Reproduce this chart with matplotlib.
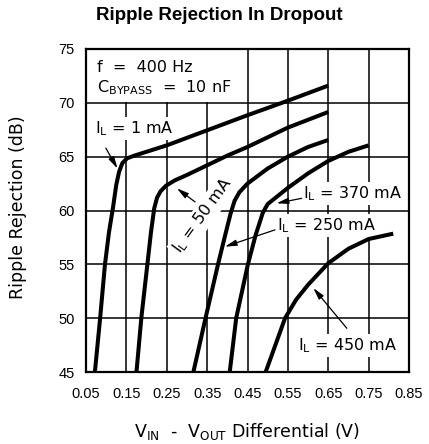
import numpy as np
from matplotlib import pyplot as plt
from matplotlib.patches import Rectangle

# curves (V, dB)
x_1ma = [0.072, 0.085, 0.097, 0.107, 0.117, 0.125, 0.132, 0.140, 0.152, 0.17, 0.25, 0.35, 0.45, 0.55, 0.65]
y_1ma = [45, 50, 55, 58, 60.3, 62.4, 63.6, 64.4, 64.85, 65.1, 66.05, 67.45, 68.85, 70.2, 71.6]

x_50ma = [0.175, 0.187, 0.202, 0.211, 0.219, 0.226, 0.235, 0.248, 0.27, 0.30, 0.35, 0.40, 0.45, 0.55, 0.65]
y_50ma = [45, 50, 55, 58, 60.2, 61.2, 61.8, 62.3, 62.8, 63.3, 64.2, 65.1, 65.9, 67.7, 69.15]

x_250ma = [0.316, 0.346, 0.377, 0.394, 0.408, 0.418, 0.43, 0.45, 0.50, 0.55, 0.60, 0.65]
y_250ma = [45, 50, 55, 57.6, 59.7, 60.9, 61.7, 62.5, 63.9, 65.0, 65.9, 66.55]

x_370ma = [0.406, 0.422, 0.451, 0.47, 0.488, 0.50, 0.52, 0.55, 0.60, 0.65, 0.70, 0.75]
y_370ma = [45, 50, 55, 57.7, 59.8, 60.6, 61.2, 62.1, 63.45, 64.6, 65.45, 66.05]

x_450ma = [0.495, 0.52, 0.543, 0.57, 0.60, 0.65, 0.70, 0.75, 0.811]
y_450ma = [45, 47.6, 50, 51.7, 53.1, 55.1, 56.45, 57.35, 57.85]

xticks = [0.05, 0.15, 0.25, 0.35, 0.45, 0.55, 0.65, 0.75, 0.85]
xticklabels = ['0.05', '0.15', '0.25', '0.35', '0.45', '0.55', '0.65', '0.75', '0.85']
yticks = [45, 50, 55, 60, 65, 70, 75]

lab_font = 'DejaVu Sans'
tick_font = 'Liberation Sans'

fig = plt.figure(figsize=(4.29, 4.44), dpi=100)
ax = fig.add_axes([86 / 429, 1 - 372 / 444, 323 / 429, 323 / 444])

curves = [(x_1ma, y_1ma), (x_50ma, y_50ma), (x_250ma, y_250ma),
          (x_370ma, y_370ma), (x_450ma, y_450ma)]
for xs, ys in curves:
    ax.plot(xs, ys, color='black', lw=2.9, solid_capstyle='butt',
            solid_joinstyle='round', zorder=4)

ax.set_xlim(0.05, 0.85)
ax.set_ylim(45, 75)
ax.set_xticks(xticks)
ax.set_xticklabels(xticklabels)
ax.set_yticks(yticks)
ax.tick_params(length=0, labelsize=10.5)
ax.tick_params(axis='x', pad=11)
ax.tick_params(axis='y', pad=8)
for lbl in ax.get_xticklabels() + ax.get_yticklabels():
    lbl.set_family(tick_font)
ax.grid(True, color='black', lw=1.1)
ax.set_axisbelow(True)
for sp in ax.spines.values():
    sp.set_linewidth(1.6)
    sp.set_zorder(6)

# blank box holding the test conditions
ax.add_patch(Rectangle((0.05, 70.12), 0.397, 4.88, facecolor='white',
                       edgecolor='none', zorder=1))

ax.text(0.077, 72.86, 'f  =  400 Hz', family=lab_font, fontsize=11.5, zorder=5)
ax.text(0.077, 70.95, r'C$_\mathregular{BYPASS}$  =  10 nF', family=lab_font,
        fontsize=11.5, zorder=5)

box = dict(facecolor='white', edgecolor='none', pad=1.5)
ax.text(0.072, 67.2, r'I$_\mathregular{L}$ = 1 mA', family=lab_font,
        fontsize=11.5, bbox=box, zorder=3)
ax.text(0.34, 59.5, r'I$_\mathregular{L}$ = 50 mA', family=lab_font,
        fontsize=11.5, rotation=54, rotation_mode='anchor', ha='center',
        va='center', bbox=box, zorder=3)
ax.text(0.587, 61.13, r'I$_\mathregular{L}$ = 370 mA', family=lab_font,
        fontsize=11.5, bbox=box, zorder=3)
ax.text(0.523, 58.19, r'I$_\mathregular{L}$ = 250 mA', family=lab_font,
        fontsize=11.5, bbox=box, zorder=3)
ax.text(0.575, 47.04, r'I$_\mathregular{L}$ = 450 mA', family=lab_font,
        fontsize=11.5, bbox=box, zorder=3)

arrows = [((0.128, 63.9), (0.099, 65.8)),
          ((0.275, 62.06), (0.32, 60.8)),
          ((0.522, 60.67), (0.584, 61.13)),
          ((0.394, 56.64), (0.518, 58.2)),
          ((0.613, 52.8), (0.696, 49.06))]
for tip, tail in arrows:
    ax.annotate('', xy=tip, xytext=tail,
                arrowprops=dict(arrowstyle='-|>,head_length=0.7,head_width=0.18',
                                color='black', lw=0.9, shrinkA=0, shrinkB=0),
                zorder=5)

fig.text(219 / 429, 1 - 16 / 444, 'Ripple Rejection In Dropout', ha='center',
         va='center', family=tick_font, fontweight='bold', fontsize=13.5)
fig.text(18 / 429, 1 - 207 / 444, 'Ripple Rejection (dB)', rotation=90,
         ha='center', va='center', family=lab_font, fontsize=12.5)
fig.text(247 / 429, 1 - 437 / 444,
         r'V$_\mathregular{IN}$  -  V$_\mathregular{OUT}$ Differential (V)',
         ha='center', va='baseline', family=lab_font, fontsize=12.5)

plt.savefig('out.png', dpi=100)
